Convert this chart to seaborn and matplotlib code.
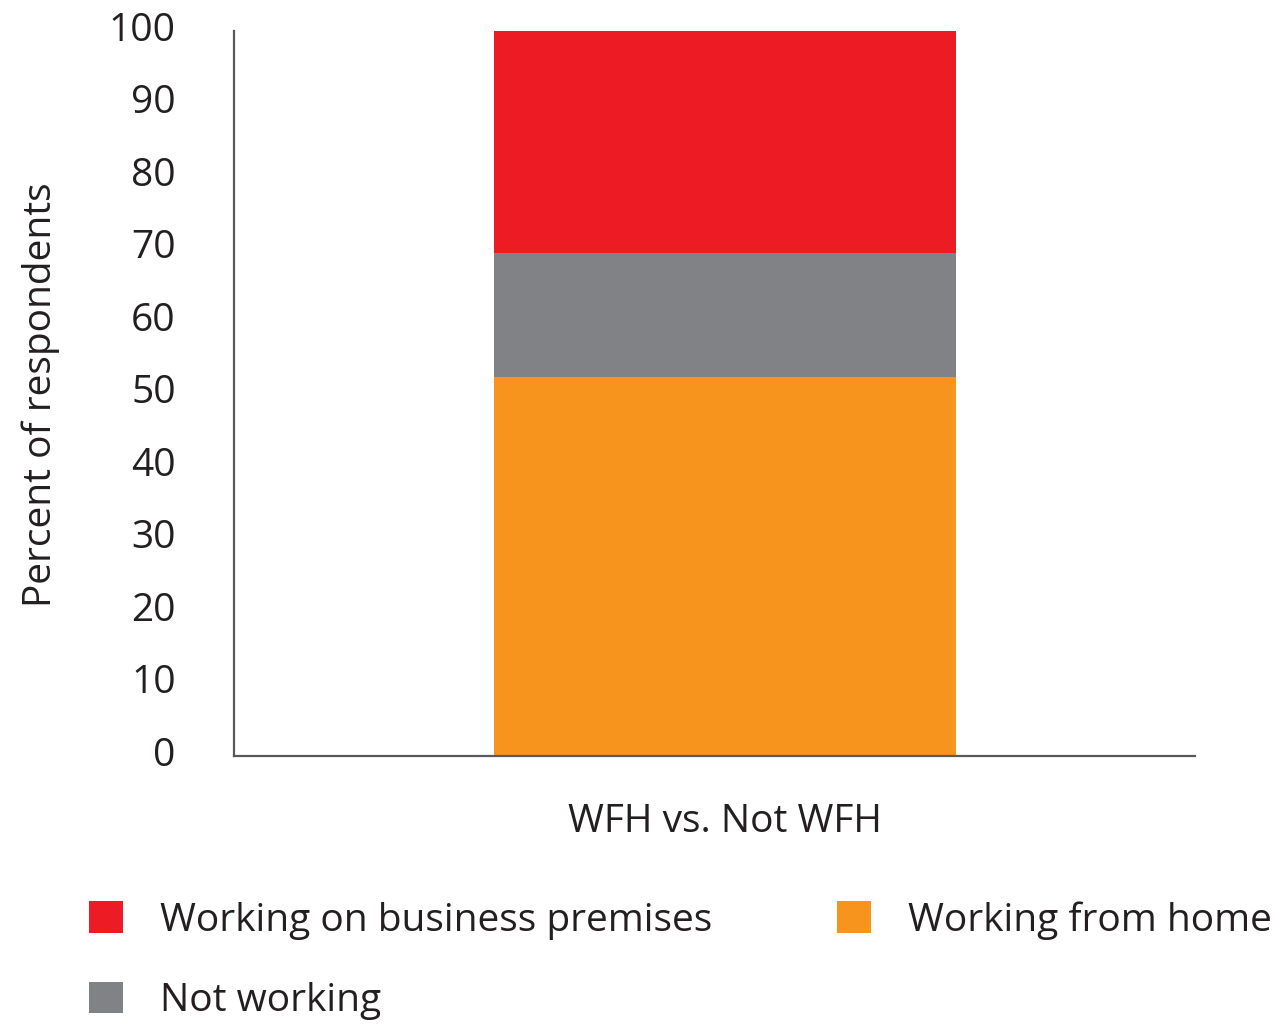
import matplotlib
matplotlib.use("Agg")
import matplotlib.pyplot as plt
import matplotlib.transforms as mtransforms
import seaborn as sns
import pandas as pd

categories = ["WFH vs. Not WFH"]
series_names = ["Working on business premises", "Not working", "Working from home"]
business_premises = [30.6]
not_working = [17.1]
working_from_home = [52.3]
colors = {"Working on business premises": "#ED1C24",
          "Not working": "#808285",
          "Working from home": "#F7941D"}
yticks = [0, 10, 20, 30, 40, 50, 60, 70, 80, 90, 100]

sns.set_theme(style="white")
plt.rcParams['font.family'] = ['Open Sans', 'DejaVu Sans']
text_color = "#231F20"

df = pd.DataFrame({"cat": categories,
                   "wfh": working_from_home,
                   "notw": not_working,
                   "bus": business_premises})
df["top_notw"] = df["wfh"] + df["notw"]
df["top_bus"] = df["top_notw"] + df["bus"]

fig, ax = plt.subplots(figsize=(12.84, 10.25), dpi=100)
fig.subplots_adjust(left=234/1284, right=1195/1284, top=1-31/1025, bottom=1-756/1025)

sns.barplot(data=df, x="cat", y="top_bus", color=colors["Working on business premises"],
            width=0.5, saturation=1, ax=ax, label="Working on business premises", linewidth=0)
sns.barplot(data=df, x="cat", y="top_notw", color=colors["Not working"],
            width=0.5, saturation=1, ax=ax, label="Not working", linewidth=0)
sns.barplot(data=df, x="cat", y="wfh", color=colors["Working from home"],
            width=0.5, saturation=1, ax=ax, label="Working from home", linewidth=0)

handles, labels = ax.get_legend_handles_labels()
if ax.get_legend() is not None:
    ax.get_legend().remove()

ax.set_xlim(-0.531, 0.509)
ax.set_ylim(0, 100)
ax.set_yticks(yticks)
ax.set_yticklabels([str(t) for t in yticks])
ax.tick_params(axis='y', length=0, pad=42, labelsize=28, labelcolor=text_color)
ax.tick_params(axis='x', length=0, pad=33.5, labelsize=28, labelcolor=text_color)
offset = mtransforms.ScaledTranslation(0, 3.5/72, fig.dpi_scale_trans)
for lbl in ax.get_yticklabels():
    lbl.set_transform(lbl.get_transform() + offset)
ax.set_xlabel("")
ax.set_ylabel("Percent of respondents", fontsize=28, color=text_color, va='center')
ax.yaxis.set_label_coords((41-234)/961, (756-395)/725)

for s in ["top", "right"]:
    ax.spines[s].set_visible(False)
for s in ["left", "bottom"]:
    ax.spines[s].set_color("#58595B")
    ax.spines[s].set_linewidth(1.6)

hmap = dict(zip(labels, handles))
order = ["Working on business premises", "Not working", "Working from home"]
leg = fig.legend([hmap[l] for l in order], order, loc="upper left",
                 bbox_to_anchor=(89/1284, 1-901/1025), ncol=2, frameon=False,
                 fontsize=28, handlelength=0.88, handleheight=0.88,
                 handletextpad=0.95, columnspacing=3.2, labelspacing=1.08,
                 borderpad=0, borderaxespad=0)
for t in leg.get_texts():
    t.set_color(text_color)

fig.savefig("out.png", dpi=100)
